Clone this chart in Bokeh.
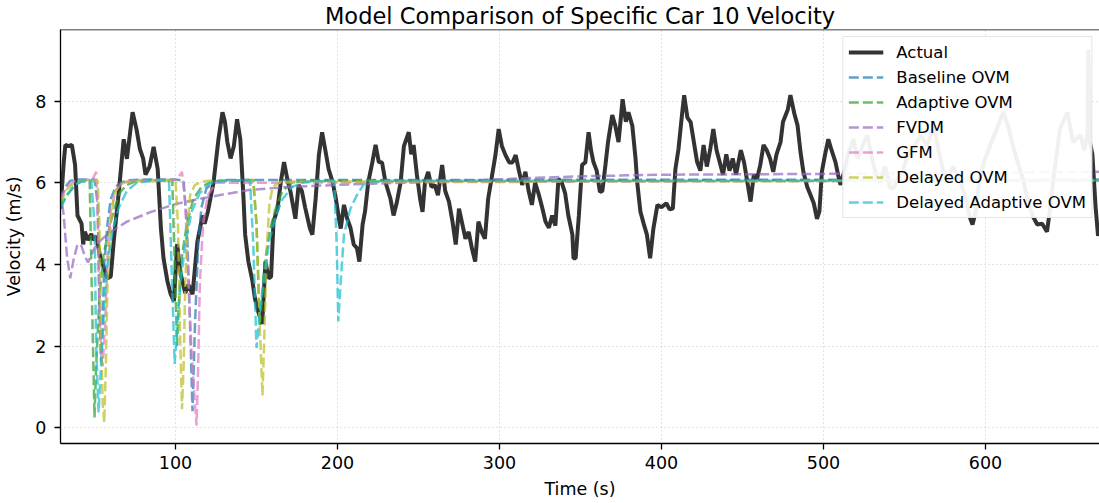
from bokeh.plotting import figure
from bokeh.models import Legend, LegendItem, FixedTicker, Span, Range1d
from bokeh.embed import file_html
from bokeh.resources import INLINE

# ---------------- data ----------------
actual_t = [29, 31, 32, 34, 36, 38, 39.5, 42, 43, 44, 46, 48, 49, 51, 53.7, 56, 58, 60, 62, 65, 68, 70, 73.5, 76, 78,
            80, 81.5, 84, 86.5, 89, 91, 92.6, 95, 97, 99, 101, 103, 106, 108, 110.5, 113.5, 116.7, 118, 120, 123.5,
            126.5, 129, 130.5, 132, 134, 136, 138, 140, 142, 143, 145, 147.5, 149, 151, 153.5, 154.5, 155.5, 157.5,
            159, 160.5, 163, 165, 167, 169, 171, 174, 176, 178, 180, 183, 184.5, 186.5, 188.5, 190.5, 192.5, 194.5,
            197, 199, 201, 202, 204, 206, 208, 210, 212, 213.5, 215.5, 217, 219, 221.5, 223.5, 225.5, 227.5, 229.6,
            232.7, 234.6, 236.5, 239, 241, 244, 245.5, 247, 249, 251, 252.5, 254, 256, 258, 260, 262, 264.6, 266.5,
            268.8, 271, 273, 275, 277, 279, 281, 283, 285, 287, 289, 291, 293, 295.5, 297.5, 299.5, 301.5, 303.7,
            306, 308, 310, 312, 314, 316, 318, 320, 322, 324, 326.5, 328.4, 330.5, 332.5, 334.5, 336.4, 338.5,
            340.5, 342.5, 345, 345.7, 347, 349, 351, 353, 355, 356.5, 358, 360, 362, 363.5, 365.4, 367, 369.6,
            371.5, 373.5, 376, 378, 379.6, 382, 384, 385, 387, 389, 391, 393, 395, 397.5, 400, 403, 405, 407, 408.6,
            410.5, 413, 414, 416, 418, 420, 422, 424, 426, 428, 430, 432, 434, 436, 438, 440, 442, 444, 446, 449,
            451, 453, 455, 457, 459, 461, 463, 465, 467, 469, 471, 473.5, 475, 478, 479.6, 482, 484, 485.8, 487.6,
            490, 492, 494, 496, 497.5, 499, 501, 503, 505, 507.4, 509, 510.5, 513, 515, 518.5, 521, 524, 527, 530,
            533, 535, 538, 541, 543, 546, 549, 552, 556, 560, 564, 568, 571, 574, 576.5, 580, 584.6, 588, 590, 592,
            594, 596, 599, 603, 607, 611, 614, 617, 620, 623, 626, 629, 632, 635, 638, 640, 642, 646, 650.6, 654,
            658.6, 661, 663, 663.5, 664.5, 666, 668, 669.5, 670.5]
actual_v = [5.37, 6.5, 6.93, 6.9, 6.93, 6.44, 5.2, 5.0, 4.49, 4.8, 4.6, 4.75, 4.6, 4.7, 4.15, 3.9, 3.66, 3.7, 4.63,
            5.78, 7.07, 6.59, 7.73, 7.3, 6.83, 6.6, 6.2, 6.4, 6.88, 6.34, 4.88, 4.15, 3.59, 3.27, 3.1, 4.5, 3.8, 3.3,
            3.5, 3.27, 4.56, 5.2, 5.0, 5.3, 6.02, 7.07, 7.73, 7.5, 7.0, 6.6, 6.9, 7.56, 7.07, 5.6, 4.73, 4.07, 3.59,
            3.17, 2.85, 2.54, 3.27, 4.07, 3.66, 3.7, 5.05, 5.37, 6.02, 6.51, 6.1, 5.78, 5.12, 5.95, 5.8, 5.4, 4.88,
            4.73, 5.61, 6.68, 7.24, 6.8, 6.34, 6.02, 5.61, 5.1, 4.88, 5.46, 5.12, 4.9, 4.49, 4.4, 4.07, 4.98, 5.3,
            6.02, 6.5, 6.93, 6.51, 6.5, 6.02, 5.61, 5.2, 5.5, 6.02, 6.9, 7.24, 6.7, 6.93, 6.2, 5.61, 5.29, 6.02,
            6.27, 5.9, 5.95, 5.7, 6.44, 5.8, 5.54, 5.05, 4.49, 5.37, 5.0, 4.63, 4.8, 4.39, 4.07, 5.05, 4.8, 4.63,
            5.61, 6.2, 6.68, 7.32, 6.9, 6.68, 6.5, 6.5, 6.68, 6.3, 5.95, 6.27, 5.8, 5.46, 6.0, 5.75, 5.37, 5.05,
            4.9, 5.2, 4.95, 6.1, 6.0, 5.75, 5.2, 4.73, 4.15, 4.15, 5.2, 6.44, 6.5, 7.24, 6.8, 6.51, 6.3, 5.78, 5.8,
            6.44, 7.0, 7.66, 7.4, 7.0, 8.05, 7.5, 7.73, 7.4, 6.59, 6.02, 5.29, 5.0, 4.73, 4.15, 4.88, 5.46, 5.4,
            5.5, 5.35, 5.37, 6.34, 6.83, 7.8, 8.15, 7.6, 7.49, 7.0, 6.51, 6.3, 6.93, 6.4, 6.8, 7.32, 6.8, 6.5, 6.2,
            6.7, 6.3, 6.6, 6.2, 6.8, 6.5, 6.02, 5.54, 6.2, 6.1, 6.44, 6.93, 6.8, 6.6, 6.27, 6.7, 7.0, 7.49, 7.8,
            8.15, 7.7, 7.41, 6.76, 6.27, 5.9, 5.7, 5.5, 5.12, 5.3, 6.27, 6.7, 7.07, 6.8, 6.51, 6.2, 5.95, 6.3,
            6.68, 7.07, 6.6, 6.9, 7.17, 6.6, 6.1, 6.02, 6.4, 5.9, 5.85, 6.1, 6.3, 6.68, 6.9, 7.17, 6.9, 7.41, 6.8,
            6.3, 6.1, 6.4, 6.02, 5.6, 5.2, 4.98, 5.3, 6.0, 6.51, 6.93, 7.32, 7.73, 7.4, 6.9, 6.5, 6.1, 5.6, 5.2,
            4.98, 5.0, 4.8, 5.4, 6.1, 7.32, 7.73, 7.0, 7.17, 6.8, 7.2, 9.27, 7.0, 6.7, 5.4, 4.7, 5.0]

baseline_t = [29, 32, 35, 40, 50, 52, 53, 54, 55, 56, 58, 60, 63, 66, 70, 80, 100, 105, 107, 109, 110.5, 112, 114,
              116, 119, 123, 130, 670.5]
baseline_v = [5.6, 5.9, 6.05, 6.08, 6.08, 5.5, 3.0, 1.6, 2.5, 4.0, 5.0, 5.6, 5.9, 6.0, 6.06, 6.08, 6.08, 6.05, 5.0,
              2.5, 0.4, 2.5, 4.5, 5.4, 5.85, 6.02, 6.07, 6.08]

adaptive_t = [29, 33, 38, 42, 47, 48.5, 50, 51, 53, 55.6, 58, 60, 63, 66, 70, 74, 80, 98, 99.5, 101, 102, 104, 107,
              111, 116, 122, 130, 148, 150, 152, 153, 155, 158, 162, 166, 172, 180, 670.5]
adaptive_v = [5.4, 5.7, 5.95, 6.05, 6.07, 3.0, 0.25, 1.5, 3.2, 4.24, 4.7, 5.05, 5.45, 5.78, 5.95, 6.02, 6.06, 6.07,
              4.0, 2.0, 3.0, 4.2, 5.0, 5.6, 5.9, 6.03, 6.06, 6.07, 5.0, 2.5, 3.0, 4.0, 4.8, 5.4, 5.8, 6.0, 6.05, 6.06]

fvdm_t = [29, 31, 33, 35, 37, 39.5, 42, 44, 46, 50, 54, 60, 70, 85, 100, 115, 130, 146, 170, 200, 230, 260, 290,
          320, 350, 400, 450, 500, 550, 600, 670.5]
fvdm_v = [5.8, 5.2, 4.2, 3.66, 4.1, 4.5, 4.45, 4.2, 4.05, 4.4, 4.6, 4.8, 5.05, 5.29, 5.48, 5.61, 5.72, 5.83, 5.9,
          5.95, 5.99, 6.03, 6.07, 6.12, 6.16, 6.2, 6.21, 6.22, 6.24, 6.25, 6.27]

gfm_t = [29, 33, 38, 45, 49, 51, 52, 53, 54, 55, 56.5, 58, 60, 63, 67, 75, 100, 102, 104, 106, 108, 110, 112, 113,
         114, 115, 117, 120, 125, 670.5]
gfm_v = [5.6, 5.9, 6.05, 6.07, 6.1, 6.27, 5.0, 3.0, 1.8, 1.5, 2.5, 4.2, 5.3, 5.8, 6.0, 6.07, 6.07, 6.15, 6.27, 5.5,
         3.5, 1.8, 0.6, 0.05, 1.5, 3.5, 5.0, 5.7, 6.0, 6.07]

delayed_t = [29, 33, 38, 45, 52, 53, 54, 55, 56, 57, 58, 60, 62, 65, 70, 100, 101.5, 103, 104, 105, 106, 107.5, 109,
             112, 116, 120, 148, 150, 152, 153.7, 155, 156.5, 158, 160, 165, 670.5]
delayed_v = [5.5, 5.85, 6.0, 6.05, 6.05, 5.0, 2.5, 0.6, 0.12, 1.5, 3.5, 5.0, 5.7, 5.95, 6.03, 6.05, 5.0, 2.0, 0.45,
             1.5, 3.5, 5.0, 5.7, 5.95, 6.03, 6.05, 6.05, 5.0, 2.5, 0.78, 2.5, 4.5, 5.5, 5.9, 6.03, 6.05]

dadaptive_t = [29, 33, 38, 42, 48, 50, 51, 52.5, 54, 56, 58, 61, 65, 70, 76, 85, 96, 97.5, 99.5, 101, 103, 106, 110,
               115, 120, 126, 135, 146, 148, 150, 152, 155, 158, 162, 166, 172, 180, 198, 199.5, 200.5, 202, 204,
               208, 212, 216, 222, 230, 670.5]
dadaptive_v = [5.4, 5.7, 5.95, 6.03, 6.05, 5.0, 2.0, 0.37, 1.5, 3.0, 4.0, 4.8, 5.4, 5.8, 6.0, 6.05, 6.05, 4.0, 1.56,
               2.5, 3.5, 4.5, 5.3, 5.75, 5.95, 6.03, 6.05, 6.05, 4.5, 1.95, 2.8, 3.8, 4.6, 5.2, 5.6, 5.9, 6.03, 6.05,
               4.5, 2.6, 3.6, 4.73, 5.37, 5.7, 5.95, 6.03, 6.05, 6.05]

x_ticks = [100, 200, 300, 400, 500, 600]
y_ticks = [0, 2, 4, 6, 8]

FONT = "DejaVu Sans"

# ---------------- figure ----------------
p = figure(width=1099, height=501, output_backend="svg", toolbar_location=None,
           x_range=Range1d(29.0, 670.4), y_range=Range1d(-0.39, 9.76),
           min_border_left=60, min_border_right=0, min_border_top=0, min_border_bottom=0)
p.title.text = "Model Comparison of Specific Car 10 Velocity"
p.title.align = "center"
p.title.text_font = FONT
p.title.text_font_size = "22.5px"
p.title.text_font_style = "normal"
p.title.text_color = "black"
p.title.standoff = 1
p.outline_line_color = None
p.background_fill_color = "white"

for ax in (p.xaxis, p.yaxis):
    ax.axis_line_color = "black"
    ax.axis_line_width = 1.3
    ax.major_tick_line_color = "black"
    ax.major_tick_line_width = 1.3
    ax.major_tick_out = 6
    ax.major_tick_in = 0
    ax.minor_tick_line_color = None
    ax.major_label_text_font = FONT
    ax.major_label_text_font_size = "17.5px"
    ax.major_label_text_color = "black"
    ax.axis_label_text_font = FONT
    ax.axis_label_text_font_size = "17.5px"
    ax.axis_label_text_font_style = "normal"
    ax.axis_label_text_color = "black"
p.xaxis.ticker = FixedTicker(ticks=x_ticks)
p.yaxis.ticker = FixedTicker(ticks=y_ticks)
p.xaxis.axis_label = "Time (s)"
p.yaxis.axis_label = "Velocity (m/s)"
p.xaxis.major_label_standoff = 6
p.xaxis.axis_label_standoff = 7
p.yaxis.major_label_standoff = 8
p.yaxis.axis_label_standoff = 8

p.grid.grid_line_color = "#c4c4c4"
p.grid.grid_line_alpha = 1.0
p.grid.grid_line_width = 1
p.grid.grid_line_dash = "1 3"

top_spine = Span(location=9.76, dimension="width", line_color="black", line_width=1.3)
p.add_layout(top_spine)

r_actual = p.line(actual_t, actual_v, line_color="black", line_alpha=0.8, line_width=4)

models = [
    ("Baseline OVM", baseline_t, baseline_v, "#1f77b4"),
    ("Adaptive OVM", adaptive_t, adaptive_v, "#2ca02c"),
    ("FVDM", fvdm_t, fvdm_v, "#9467bd"),
    ("GFM", gfm_t, gfm_v, "#e377c2"),
    ("Delayed OVM", delayed_t, delayed_v, "#bcbd22"),
    ("Delayed Adaptive OVM", dadaptive_t, dadaptive_v, "#17becf"),
]
items = [LegendItem(label="Actual", renderers=[r_actual])]
for name, tt, vv, col in models:
    r = p.line(tt, vv, line_color=col, line_alpha=0.7, line_width=2.5, line_dash="10 4")
    items.append(LegendItem(label=name, renderers=[r]))

legend = Legend(items=items, location="top_right")
legend.label_text_font = FONT
legend.label_text_font_size = "16.5px"
legend.label_text_color = "black"
legend.glyph_width = 35
legend.glyph_height = 20
legend.label_height = 20
legend.label_standoff = 13
legend.spacing = 5
legend.padding = 5
legend.margin = 7
legend.background_fill_color = "white"
legend.background_fill_alpha = 0.93
legend.border_line_color = "#cccccc"
legend.border_line_width = 1
p.add_layout(legend)

open("out.html", "w").write(file_html(p, INLINE))
